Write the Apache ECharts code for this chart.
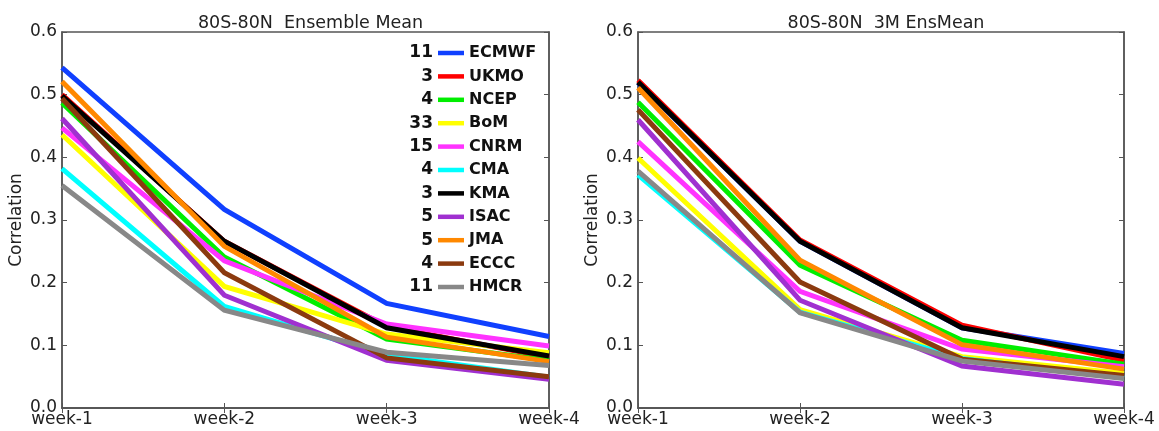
<!DOCTYPE html>
<html><head><meta charset="utf-8">
<script src="https://cdn.jsdelivr.net/npm/echarts@6/dist/echarts.min.js"></script>
<style>html,body{margin:0;padding:0;background:#fff}#c{width:1159px;height:431px}</style>
</head><body><div id="c"></div>
<script>
const weeks = ['week-1','week-2','week-3','week-4'];
const models = ['ECMWF','UKMO','NCEP','BoM','CNRM','CMA','KMA','ISAC','JMA','ECCC','HMCR'];
const members = [11,3,4,33,15,4,3,5,5,4,11];
const colors = ['#1040ff','#ff0000','#00ee00','#ffff00','#ff33ff','#00ffff','#000000','#a030d0','#ff8800','#8b3a0f','#888888'];
const yTicks = [0.0,0.1,0.2,0.3,0.4,0.5,0.6];
const titles = ['80S-80N  Ensemble Mean','80S-80N  3M EnsMean'];

// Left panel: Ensemble Mean
const ensECMWF = [0.543,0.317,0.167,0.114];
const ensUKMO  = [0.500,0.266,0.130,0.081];
const ensNCEP  = [0.487,0.241,0.110,0.076];
const ensBoM   = [0.436,0.194,0.118,0.088];
const ensCNRM  = [0.447,0.235,0.134,0.099];
const ensCMA   = [0.382,0.162,0.085,0.049];
const ensKMA   = [0.498,0.266,0.128,0.083];
const ensISAC  = [0.462,0.180,0.076,0.046];
const ensJMA   = [0.521,0.258,0.113,0.074];
const ensECCC  = [0.494,0.216,0.080,0.050];
const ensHMCR  = [0.355,0.156,0.089,0.068];

// Right panel: 3M EnsMean
const m3ECMWF = [0.519,0.266,0.128,0.087];
const m3UKMO  = [0.523,0.268,0.132,0.076];
const m3NCEP  = [0.488,0.228,0.108,0.070];
const m3BoM   = [0.399,0.157,0.082,0.055];
const m3CNRM  = [0.425,0.186,0.094,0.066];
const m3CMA   = [0.372,0.153,0.079,0.048];
const m3KMA   = [0.520,0.266,0.128,0.082];
const m3ISAC  = [0.460,0.172,0.067,0.038];
const m3JMA   = [0.511,0.236,0.101,0.062];
const m3ECCC  = [0.476,0.201,0.078,0.052];
const m3HMCR  = [0.378,0.152,0.075,0.047];

const ensData = [ensECMWF,ensUKMO,ensNCEP,ensBoM,ensCNRM,ensCMA,ensKMA,ensISAC,ensJMA,ensECCC,ensHMCR];
const m3Data  = [m3ECMWF,m3UKMO,m3NCEP,m3BoM,m3CNRM,m3CMA,m3KMA,m3ISAC,m3JMA,m3ECCC,m3HMCR];

const FONT = 'DejaVu Sans';
const frame = '#555';
const grids = [
  {left:62, right:610, top:32, bottom:23, show:true, borderColor:frame, borderWidth:1.5},
  {left:638, right:35, top:32, bottom:23, show:true, borderColor:frame, borderWidth:1.5}
];
const xAxes = [], yAxes = [];
for (let g=0; g<2; g++) {
  xAxes.push({type:'category', data:weeks, gridIndex:g, boundaryGap:false, position:'bottom',
    axisLine:{lineStyle:{color:frame,width:1.5}},
    axisTick:{inside:true,length:5,lineStyle:{color:frame}},
    axisLabel:{color:'#222',fontSize:17,fontFamily:FONT,margin:3},
    splitLine:{show:false}});
  xAxes.push({type:'category', data:weeks, gridIndex:g, boundaryGap:false, position:'top',
    axisLine:{lineStyle:{color:frame,width:1.5}},
    axisTick:{inside:true,length:5,lineStyle:{color:frame}},
    axisLabel:{show:false}, splitLine:{show:false}});
  yAxes.push({type:'value', gridIndex:g, min:0, max:0.6, interval:0.1, position:'left',
    name:'Correlation', nameLocation:'middle', nameGap:37,
    nameTextStyle:{color:'#222',fontSize:17,fontFamily:FONT},
    axisLine:{show:true,lineStyle:{color:frame,width:1.5}},
    axisTick:{show:true,inside:true,length:5,lineStyle:{color:frame}},
    axisLabel:{color:'#222',fontSize:17,fontFamily:FONT,margin:5,formatter:v=>v.toFixed(1)},
    splitLine:{show:false}});
  yAxes.push({type:'value', gridIndex:g, min:0, max:0.6, interval:0.1, position:'right',
    axisLine:{show:true,lineStyle:{color:frame,width:1.5}},
    axisTick:{show:true,inside:true,length:5,lineStyle:{color:frame}},
    axisLabel:{show:false}, splitLine:{show:false}});
}
const series = [];
[ensData, m3Data].forEach((set, g) => {
  set.forEach((vals, i) => {
    series.push({type:'line', name:models[i], data:vals, xAxisIndex:g*2, yAxisIndex:g*2,
      symbol:'none', silent:true, animation:false,
      lineStyle:{color:colors[i], width:5, join:'miter'}, itemStyle:{color:colors[i]}});
  });
});
const rowTop = 44, rowStep = 23.4;
const graphics = members.map((m, i) => ({
  type:'text', x:433, y:rowTop + 9 + i*rowStep,
  style:{text:String(m), fill:'#111', font:'bold 17px "'+FONT+'"', textAlign:'right', textVerticalAlign:'middle'}
}));
const option = {
  animation:false,
  backgroundColor:'#fff',
  title: titles.map((t,g)=>({text:t, left: g===0 ? 305.5 : 881, top:9, textAlign:'center',
    textStyle:{fontSize:17.5,fontWeight:'normal',color:'#222',fontFamily:FONT}})),
  grid: grids, xAxis: xAxes, yAxis: yAxes, series: series,
  legend: {data:models, orient:'vertical', left:438, top:rowTop, padding:0, icon:'rect',
    itemWidth:26, itemHeight:4.5, itemGap:5.4, selectedMode:false,
    textStyle:{fontSize:16, fontWeight:'bold', color:'#111', fontFamily:FONT, lineHeight:18}},
  graphic: graphics
};
const chart = echarts.init(document.getElementById('c'), null, {renderer:'canvas'});
chart.setOption(option);
</script></body></html>
